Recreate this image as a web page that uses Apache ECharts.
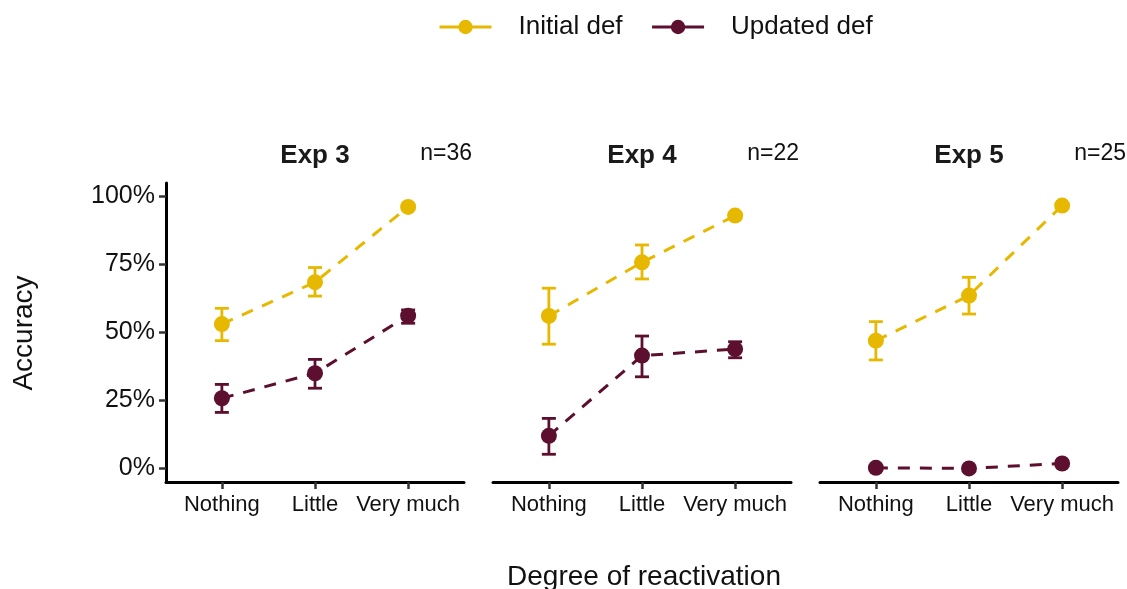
<!DOCTYPE html>
<html>
<head>
<meta charset="utf-8">
<script src="https://cdn.jsdelivr.net/npm/echarts@6/dist/echarts.min.js"></script>
<style>
html,body{margin:0;padding:0;background:#fff;}
#chart{width:1127px;height:589px;}
</style>
</head>
<body>
<div id="chart"></div>
<script>
// ---- data ----
const categories = ['Nothing', 'Little', 'Very much'];
const panelTitles = ['Exp 3', 'Exp 4', 'Exp 5'];
const nLabels = ['n=36', 'n=22', 'n=25'];
const yTicks = [0, 25, 50, 75, 100];
const seriesNames = ['Initial def', 'Updated def'];

// accuracy (%) per panel: mean, lower, upper
const initialMean = [[53.1, 68.5, 96.2], [56.1, 75.8, 93.0], [47.0, 63.6, 96.7]];
const initialLow  = [[47.0, 63.4, 95.2], [45.7, 69.7, 92.0], [39.9, 56.8, 96.0]];
const initialHigh = [[58.9, 73.9, 97.2], [66.3, 82.2, 94.0], [54.0, 70.3, 97.4]];
const updatedMean = [[25.8, 35.0, 56.2], [12.0, 41.5, 43.9], [0.2, 0.0, 1.8]];
const updatedLow  = [[20.6, 29.5, 53.4], [5.2, 33.7, 40.7], [0.0, 0.0, 1.0]];
const updatedHigh = [[30.9, 40.1, 58.3], [18.4, 48.7, 46.6], [0.4, 0.2, 2.6]];

// ---- styling ----
const colors = ['#E7B800', '#5C0F2E'];
const FONT = "'Liberation Sans', Arial, sans-serif";
const gridLefts = [166, 493, 820];
const gridWidth = 298;
const gridTop = 183;
const gridHeight = 299;

const grids = [], xAxes = [], yAxes = [], series = [], graphics = [];

function errorSeries(idx, color, low, high) {
  return {
    type: 'custom',
    xAxisIndex: idx, yAxisIndex: idx,
    z: 1,
    silent: true,
    data: categories.map((c, i) => [i + 1, low[i], high[i]]),
    renderItem: function (params, api) {
      const x = api.value(0);
      const lo = api.coord([x, api.value(1)]);
      const hi = api.coord([x, api.value(2)]);
      const hw = 7;
      const st = { stroke: color, lineWidth: 2.8 };
      return {
        type: 'group',
        children: [
          { type: 'line', shape: { x1: lo[0], y1: lo[1], x2: hi[0], y2: hi[1] }, style: st },
          { type: 'line', shape: { x1: lo[0] - hw, y1: lo[1], x2: lo[0] + hw, y2: lo[1] }, style: st },
          { type: 'line', shape: { x1: hi[0] - hw, y1: hi[1], x2: hi[0] + hw, y2: hi[1] }, style: st }
        ]
      };
    }
  };
}

for (let p = 0; p < 3; p++) {
  grids.push({ left: gridLefts[p], top: gridTop, width: gridWidth, height: gridHeight, containLabel: false });
  xAxes.push({
    type: 'value', gridIndex: p, min: 0.4, max: 3.6,
    splitLine: { show: false },
    axisLine: { show: true, onZero: false, lineStyle: { color: '#000', width: 3 } },
    axisTick: { show: true, length: 7, customValues: [1, 2, 3], lineStyle: { color: '#333', width: 2.5 } },
    axisLabel: {
      customValues: [1, 2, 3],
      formatter: v => categories[Math.round(v) - 1] || '',
      color: '#111', fontFamily: FONT, fontSize: 22, margin: 12
    }
  });
  yAxes.push({
    type: 'value', gridIndex: p, min: -5, max: 105,
    splitLine: { show: false },
    axisLine: { show: p === 0, onZero: false, lineStyle: { color: '#000', width: 3 } },
    axisTick: { show: p === 0, length: 7, customValues: yTicks, lineStyle: { color: '#333', width: 2.5 } },
    axisLabel: {
      show: p === 0, customValues: yTicks,
      formatter: v => v + '%',
      color: '#111', fontFamily: FONT, fontSize: 25, margin: 11
    }
  });
  const means = [initialMean[p], updatedMean[p]];
  const lows = [initialLow[p], updatedLow[p]];
  const highs = [initialHigh[p], updatedHigh[p]];
  for (let s = 0; s < 2; s++) {
    series.push(errorSeries(p, colors[s], lows[s], highs[s]));
  }
  for (let s = 0; s < 2; s++) {
    series.push({
      name: seriesNames[s],
      type: 'line',
      xAxisIndex: p, yAxisIndex: p,
      z: 3,
      data: categories.map((c, i) => [i + 1, means[s][i]]),
      symbol: 'circle', symbolSize: 16,
      itemStyle: { color: colors[s] },
      lineStyle: { color: colors[s], width: 3, type: [12, 10] },
      animation: false
    });
  }
  const cx = gridLefts[p] + gridWidth / 2;
  graphics.push({
    type: 'text', x: cx, y: 156,
    style: { text: panelTitles[p], font: 'bold 26px ' + FONT, fill: '#1a1a1a', textAlign: 'center', textVerticalAlign: 'middle' }
  });
  graphics.push({
    type: 'text', x: gridLefts[p] + gridWidth + 8, y: 154,
    style: { text: nLabels[p], font: '23px ' + FONT, fill: '#111', textAlign: 'right', textVerticalAlign: 'middle' }
  });
}

graphics.push({
  type: 'text', x: 24, y: 333, rotation: Math.PI / 2,
  style: { text: 'Accuracy', font: '28px ' + FONT, fill: '#111', textAlign: 'center', textVerticalAlign: 'middle' }
});
graphics.push({
  type: 'text', x: 644, y: 577,
  style: { text: 'Degree of reactivation', font: '28px ' + FONT, fill: '#111', textAlign: 'center', textVerticalAlign: 'middle' }
});

const chart = echarts.init(document.getElementById('chart'), null, { renderer: 'canvas' });
chart.setOption({
  backgroundColor: '#fff',
  animation: false,
  legend: {
    data: seriesNames,
    left: 438, top: 14, padding: 0,
    itemWidth: 52, itemHeight: 18, itemGap: 28,
    lineStyle: { type: 'solid', width: 3 },
    textStyle: { fontFamily: FONT, fontSize: 26, color: '#111', padding: [0, 0, 0, 22] }
  },
  grid: grids,
  xAxis: xAxes,
  yAxis: yAxes,
  series: series,
  graphic: graphics
});
</script>
</body>
</html>
